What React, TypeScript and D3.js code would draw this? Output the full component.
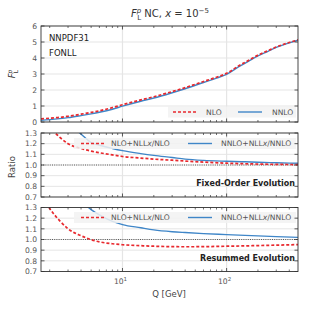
import React from 'react'
import * as d3 from 'd3'

// F_L (absolute) vs Q
const qAbs = [1.65, 2, 2.5, 3, 4, 5, 6, 8, 10, 15, 20, 30, 40, 60, 80, 100, 130, 160, 200, 250, 300, 400, 485]
const flNLO = [0.19, 0.24, 0.29, 0.36, 0.49, 0.6, 0.7, 0.9, 1.08, 1.38, 1.58, 1.9, 2.15, 2.53, 2.8, 3.04, 3.5, 3.83, 4.18, 4.46, 4.69, 4.97, 5.13]
const flNNLO = [0.11, 0.15, 0.21, 0.27, 0.4, 0.51, 0.61, 0.8, 0.99, 1.3, 1.5, 1.83, 2.08, 2.47, 2.74, 2.98, 3.44, 3.78, 4.13, 4.42, 4.66, 4.95, 5.11]

// ratios vs Q
const qRatio = [1.65, 2, 2.5, 3, 4, 5, 6, 8, 10, 15, 20, 30, 40, 60, 100, 150, 200, 300, 485]
const fixedNLO = [1.42, 1.35, 1.26, 1.2, 1.155, 1.13, 1.115, 1.095, 1.08, 1.065, 1.055, 1.045, 1.037, 1.027, 1.017, 1.012, 1.009, 1.006, 1.004]
const fixedNNLO = [1.75, 1.62, 1.5, 1.4, 1.29, 1.21, 1.185, 1.155, 1.135, 1.107, 1.09, 1.07, 1.055, 1.043, 1.035, 1.03, 1.026, 1.021, 1.016]
const resumNLO = [1.42, 1.29, 1.175, 1.1, 1.035, 0.998, 0.978, 0.96, 0.951, 0.942, 0.937, 0.933, 0.932, 0.933, 0.937, 0.94, 0.943, 0.947, 0.952]
const resumNNLO = [2.0, 1.8, 1.62, 1.5, 1.36, 1.28, 1.23, 1.17, 1.14, 1.11, 1.09, 1.073, 1.065, 1.055, 1.046, 1.039, 1.034, 1.027, 1.02]

const flTicks = [0, 1, 2, 3, 4, 5, 6]
const ratioTicks = [0.7, 0.8, 0.9, 1.0, 1.1, 1.2, 1.3]
const xMajor = [10, 100]
const xMinor = [2, 3, 4, 5, 6, 7, 8, 9, 20, 30, 40, 50, 60, 70, 80, 90, 200, 300, 400]

const RED = '#e8292e'
const BLUE = '#3f86c8'
const FONT = 'DejaVu Sans, sans-serif'
const TICKC = '#555'

const x = d3.scaleLog().domain([1.65, 485]).range([41, 298])

function Panel({ id, top, bottom, domain, ticks, fmt, series, qs, legend, note, unity }: any) {
  const y = d3.scaleLinear().domain(domain).range([bottom, top])
  const left = x.range()[0], right = x.range()[1]
  return (
    <g>
      <defs>
        <clipPath id={id}>
          <rect x={left} y={top} width={right - left} height={bottom - top} />
        </clipPath>
      </defs>
      {ticks.map((t: number) => (
        <line key={'gh' + t} x1={left} x2={right} y1={y(t)} y2={y(t)} stroke="#e5e5e5" strokeWidth={1} />
      ))}
      {xMajor.map(t => (
        <line key={'gv' + t} x1={x(t)} x2={x(t)} y1={top} y2={bottom} stroke="#e5e5e5" strokeWidth={1.2} />
      ))}
      {unity && (
        <line x1={left} x2={right} y1={y(1)} y2={y(1)} stroke="#333" strokeWidth={0.8} strokeDasharray="1,1.2" />
      )}
      <g clipPath={`url(#${id})`}>
        {series.map((s: any, i: number) => {
          const line = d3.line<number>().x((_, j) => x(qs[j])).y(d => y(d)).curve(d3.curveMonotoneX)
          return (
            <path key={i} d={line(s.values) || ''} fill="none" stroke={s.color} strokeWidth={s.dash ? 1.7 : 1.4}
              strokeDasharray={s.dash ? '3,2' : undefined} />
          )
        })}
      </g>
      {legend && (
        <g>
          <rect x={legend.x0} y={legend.y - 5.5} width={legend.x1 - legend.x0} height={11} fill="#f2f2f2" opacity={0.85} />
          {legend.items.map((it: any, i: number) => (
            <g key={i}>
              <line x1={it.lx} x2={it.lx + 24} y1={legend.y} y2={legend.y} stroke={it.color} strokeWidth={it.dash ? 1.7 : 1.4}
                strokeDasharray={it.dash ? '3,2' : undefined} />
              <text x={it.tx} y={legend.y + 2.8} fontSize={7.6} fill={TICKC} fontFamily={FONT}>{it.label}</text>
            </g>
          ))}
        </g>
      )}
      {note && (
        <text x={295} y={note.y} textAnchor="end" fontSize={8} fontWeight="bold" fill="#222" fontFamily={FONT}>{note.text}</text>
      )}
      <rect x={left} y={top} width={right - left} height={bottom - top} fill="none" stroke="#333" strokeWidth={0.9} />
      {ticks.map((t: number) => (
        <g key={'yt' + t}>
          <line x1={left} x2={left + 3.5} y1={y(t)} y2={y(t)} stroke="#333" strokeWidth={0.8} />
          <line x1={right - 3.5} x2={right} y1={y(t)} y2={y(t)} stroke="#333" strokeWidth={0.8} />
          <text x={left - 4} y={y(t) + 2.8} textAnchor="end" fontSize={7.6} fill={TICKC} fontFamily={FONT}>{fmt(t)}</text>
        </g>
      ))}
      {xMajor.map(t => (
        <g key={'xM' + t}>
          <line x1={x(t)} x2={x(t)} y1={bottom} y2={bottom - 3.5} stroke="#333" strokeWidth={0.8} />
          <line x1={x(t)} x2={x(t)} y1={top} y2={top + 3.5} stroke="#333" strokeWidth={0.8} />
        </g>
      ))}
      {xMinor.map(t => (
        <g key={'xm' + t}>
          <line x1={x(t)} x2={x(t)} y1={bottom} y2={bottom - 2} stroke="#333" strokeWidth={0.7} />
          <line x1={x(t)} x2={x(t)} y1={top} y2={top + 2} stroke="#333" strokeWidth={0.7} />
        </g>
      ))}
    </g>
  )
}

export default function App() {
  const ratioLegend = (y: number) => ({
    x0: 74, x1: 296, y,
    items: [
      { lx: 81, tx: 111, color: RED, dash: true, label: <>NLO+NLL<tspan fontStyle="italic">x</tspan>/NLO</> },
      { lx: 188, tx: 221, color: BLUE, dash: false, label: <>NNLO+NLL<tspan fontStyle="italic">x</tspan>/NNLO</> },
    ],
  })
  return (
    <svg width={315} height={309} style={{ position: 'absolute', left: 0, top: 0, background: '#fff' }}>
      {/* title */}
      <text x={131} y={16.5} fontSize={10} fill="#333" fontFamily={FONT}>
        <tspan fontStyle="italic">F</tspan>
        <tspan fontSize={7} fontStyle="italic" dy={-4}>p</tspan>
        <tspan fontSize={7} dx={-4} dy={7}>L</tspan>
        <tspan dy={-3}> NC, </tspan>
        <tspan fontStyle="italic">x</tspan>
        <tspan> = 10</tspan>
        <tspan fontSize={7} dy={-4}>−5</tspan>
      </text>

      <Panel id="c1" top={26} bottom={122} domain={[0, 6]} ticks={flTicks} fmt={(d: number) => String(d)} qs={qAbs}
        series={[{ values: flNNLO, color: BLUE, dash: false }, { values: flNLO, color: RED, dash: true }]}
        legend={{
          x0: 168, x1: 296, y: 112, items: [
            { lx: 173, tx: 206, color: RED, dash: true, label: 'NLO' },
            { lx: 238, tx: 272, color: BLUE, dash: false, label: 'NNLO' },
          ]
        }} />
      <text x={49} y={41} fontSize={8.5} fill="#222" fontFamily={FONT}>NNPDF31</text>
      <text x={49} y={56} fontSize={8.5} fill="#222" fontFamily={FONT}>FONLL</text>

      <Panel id="c2" top={133} bottom={197} domain={[0.7, 1.3]} ticks={ratioTicks} fmt={d3.format('.1f')} qs={qRatio} unity
        series={[{ values: fixedNNLO, color: BLUE, dash: false }, { values: fixedNLO, color: RED, dash: true }]}
        legend={ratioLegend(143.5)} note={{ y: 186, text: 'Fixed-Order Evolution' }} />

      <Panel id="c3" top={207.5} bottom={271.5} domain={[0.7, 1.3]} ticks={ratioTicks} fmt={d3.format('.1f')} qs={qRatio} unity
        series={[{ values: resumNNLO, color: BLUE, dash: false }, { values: resumNLO, color: RED, dash: true }]}
        legend={ratioLegend(217.5)} note={{ y: 261, text: 'Resummed Evolution' }} />

      {/* y labels */}
      <text transform="translate(15,74) rotate(-90)" textAnchor="middle" fontSize={8.5} fill="#333" fontFamily={FONT}>
        <tspan fontStyle="italic">F</tspan>
        <tspan fontSize={6} fontStyle="italic" dy={-3.5}>p</tspan>
        <tspan fontSize={6} dx={-3.5} dy={6}>L</tspan>
      </text>
      <text transform="translate(15,167) rotate(-90)" textAnchor="middle" fontSize={8.5} fill="#444" fontFamily={FONT}>Ratio</text>

      {/* x tick labels and label */}
      {xMajor.map(t => (
        <text key={t} x={x(t) - 2} y={284} textAnchor="middle" fontSize={7.6} fill={TICKC} fontFamily={FONT}>
          10<tspan fontSize={5.5} dy={-3.5}>{Math.round(Math.log10(t))}</tspan>
        </text>
      ))}
      <text x={169} y={297} textAnchor="middle" fontSize={8.5} fill="#444" fontFamily={FONT}>Q [GeV]</text>
    </svg>
  )
}
